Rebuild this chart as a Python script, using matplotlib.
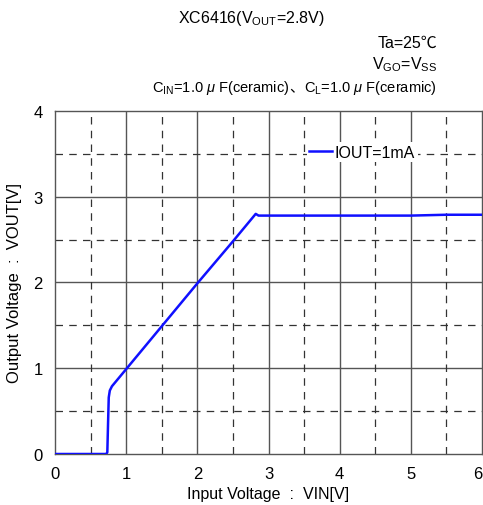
import numpy as np
import matplotlib
matplotlib.use("Agg")
import matplotlib.pyplot as plt

# === DATA ===
vin = [0.0, 0.72, 0.735, 0.745, 0.755, 0.77, 0.80, 0.85, 1.0, 1.5, 2.0, 2.5,
       2.78, 2.82, 2.86, 3.0, 3.5, 4.0, 4.5, 5.0, 5.5, 6.0]
vout = [0.0, 0.0, 0.02, 0.35, 0.66, 0.74, 0.79, 0.84, 0.99, 1.49, 1.99, 2.48,
        2.76, 2.80, 2.78, 2.78, 2.78, 2.78, 2.78, 2.78, 2.79, 2.79]
xticks = [0, 1, 2, 3, 4, 5, 6]
yticks = [0, 1, 2, 3, 4]
minor_x = [0.5, 1.5, 2.5, 3.5, 4.5, 5.5]
minor_y = [0.5, 1.5, 2.5, 3.5]

plt.rcParams['font.family'] = ['Liberation Sans', 'Noto Sans CJK JP', 'DejaVu Sans']
plt.rcParams['mathtext.fontset'] = 'custom'
plt.rcParams['mathtext.rm'] = 'Liberation Sans'
plt.rcParams['mathtext.it'] = 'Liberation Sans:italic'
plt.rcParams['font.size'] = 11.5

fig = plt.figure(figsize=(4.83, 5.06), dpi=100)
ax = fig.add_axes([0.1139, 0.1008, 0.8841, 0.6779])

# grid: solid at integers, dashed at halves
for x in xticks[1:-1]:
    ax.axvline(x, color='#555555', lw=1.0, zorder=1)
for y in yticks[1:-1]:
    ax.axhline(y, color='#555555', lw=1.0, zorder=1)
for x in minor_x:
    ax.axvline(x, color='#333333', lw=0.9, ls=(0, (6, 5)), zorder=1)
for y in minor_y:
    ax.axhline(y, color='#333333', lw=0.9, ls=(0, (6, 5)), zorder=1)

ax.plot(vin, vout, color='#1010ff', lw=1.8, label='IOUT=1mA', zorder=3)

ax.set_xlim(0, 6)
ax.set_ylim(0, 4)
ax.set_xticks(xticks)
ax.set_yticks(yticks)
ax.tick_params(length=0, labelsize=12, pad=9)
ax.get_xticklabels()[-1].set_ha('right')
for s in ax.spines.values():
    s.set_color('#555555')
    s.set_linewidth(1.0)

ax.set_xlabel('Input Voltage  :  VIN[V]', fontsize=11.5, labelpad=3)
ax.set_ylabel('Output Voltage  :  VOUT[V]', fontsize=12, labelpad=8)

leg = ax.legend(loc='center left', bbox_to_anchor=(0.59, 0.88), frameon=True,
                handlelength=1.4, handletextpad=0.2, borderpad=0.15, borderaxespad=0,
                fontsize=11.5, fancybox=False)
leg.get_frame().set_facecolor('white')
leg.get_frame().set_edgecolor('none')
leg.get_frame().set_alpha(1)
leg.set_zorder(5)

fig.text(0.52, 0.963, r'XC6416(V$_{\mathrm{OUT}}$=2.8V)', ha='center', va='center')
fig.text(0.905, 0.915, 'Ta=25℃', ha='right', va='center')
fig.text(0.905, 0.872, r'V$_{\mathrm{GO}}$=V$_{\mathrm{SS}}$', ha='right', va='center')

# capacitor line: mathtext pieces plus the CJK comma, laid out right-aligned
parts = [r'C$_{\mathrm{IN}}$=1.0 $\mu$ F(ceramic)', '、', r'C$_{\mathrm{L}}$=1.0 $\mu$ F(ceramic)']
y_base = 0.818
texts = [fig.text(0, y_base, p, ha='left', va='baseline', fontsize=10.5) for p in parts]
fig.canvas.draw()
r = fig.canvas.get_renderer()
widths = [t.get_window_extent(r).width / fig.bbox.width for t in texts]
x = 0.905 - sum(widths)
for t, w in zip(texts, widths):
    t.set_x(x)
    x += w

fig.savefig('out.png', dpi=100)
